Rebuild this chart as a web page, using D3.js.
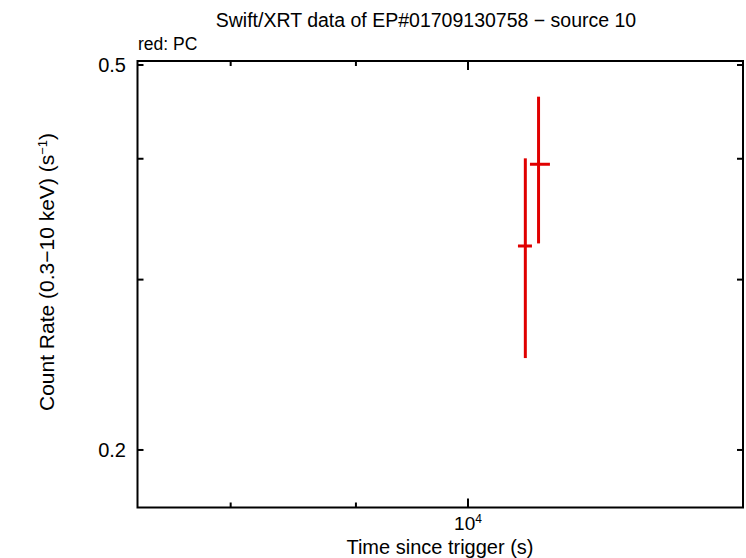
<!DOCTYPE html>
<html><head><meta charset="utf-8">
<script src="https://cdn.jsdelivr.net/npm/d3@7"></script>
<style>body{margin:0;background:#fff}text{font-family:"Liberation Sans",Arial,sans-serif;}</style>
</head><body><svg id="c" width="746" height="558"></svg>
<script>
const time   = [10554, 10686];
const timeLo = [10481, 10600];
const timeHi = [10620, 10801];
const rate   = [0.325, 0.3948];
const rateLo = [0.2489, 0.327];
const rateHi = [0.4004, 0.4637];
const xMajorTicks = [10000];
const xMinorTicks = [8000, 9000];
const yMajorTicks = [0.2, 0.5];
const yMinorTicks = [0.3, 0.4];

const svg = d3.select("#c");
const L = 137.5, R = 743, T = 61, B = 507.5;
const x = d3.scaleLog().domain([7329, 12951]).range([L, R]);
const y = d3.scaleLog().domain([0.1744, 0.5048]).range([B, T]);

const g = svg.append("g");
const ink = "#000";
function xt(v, len) {
  g.append("line").attr("x1", x(v)).attr("x2", x(v)).attr("y1", B).attr("y2", B - len).attr("stroke", ink).attr("stroke-width", 2);
  g.append("line").attr("x1", x(v)).attr("x2", x(v)).attr("y1", T).attr("y2", T + len).attr("stroke", ink).attr("stroke-width", 2);
}
xMajorTicks.forEach(v => xt(v, 9));
xMinorTicks.forEach(v => xt(v, 5));
function yt(v, len) {
  g.append("line").attr("x1", L).attr("x2", L + len).attr("y1", y(v)).attr("y2", y(v)).attr("stroke", ink).attr("stroke-width", 2);
  g.append("line").attr("x1", R).attr("x2", R - len).attr("y1", y(v)).attr("y2", y(v)).attr("stroke", ink).attr("stroke-width", 2);
}
yMajorTicks.forEach(v => yt(v, 6));
yMinorTicks.forEach(v => yt(v, 6));

g.append("rect").attr("x", L).attr("y", T).attr("width", R - L).attr("height", B - T)
  .attr("fill", "none").attr("stroke", ink).attr("stroke-width", 2);

yMajorTicks.forEach(v => {
  g.append("text").attr("x", 126).attr("y", y(v) + 7).attr("text-anchor", "end")
    .attr("font-size", 20).text(d3.format(".1f")(v));
});
xMajorTicks.forEach(v => {
  const t = g.append("text").attr("x", x(v)).attr("y", 530).attr("text-anchor", "middle").attr("font-size", 19);
  t.append("tspan").text("10");
  t.append("tspan").attr("dy", -7).attr("font-size", 12).text(Math.round(Math.log10(v)));
});

svg.append("text").attr("x", 426).attr("y", 27).attr("text-anchor", "middle").attr("font-size", 19.5)
  .text("Swift/XRT data of EP#01709130758 \u2212 source 10");
svg.append("text").attr("x", 138).attr("y", 50).attr("font-size", 17.5).text("red: PC");
svg.append("text").attr("x", 440).attr("y", 554).attr("text-anchor", "middle").attr("font-size", 20)
  .text("Time since trigger (s)");
const yl = svg.append("text").attr("transform", "translate(54,272) rotate(-90)").attr("text-anchor", "middle").attr("font-size", 21);
yl.append("tspan").text("Count Rate (0.3\u221210 keV) (s");
yl.append("tspan").attr("dy", -7).attr("font-size", 13).text("\u22121");
yl.append("tspan").attr("dy", 7).text(")");

const red = "#e00000";
const pts = g.append("g");
time.forEach((t, i) => {
  pts.append("line").attr("x1", x(t)).attr("x2", x(t)).attr("y1", y(rateLo[i])).attr("y2", y(rateHi[i]))
    .attr("stroke", red).attr("stroke-width", 3);
  pts.append("line").attr("x1", x(timeLo[i])).attr("x2", x(timeHi[i])).attr("y1", y(rate[i])).attr("y2", y(rate[i]))
    .attr("stroke", red).attr("stroke-width", 3);
});
</script></body></html>
